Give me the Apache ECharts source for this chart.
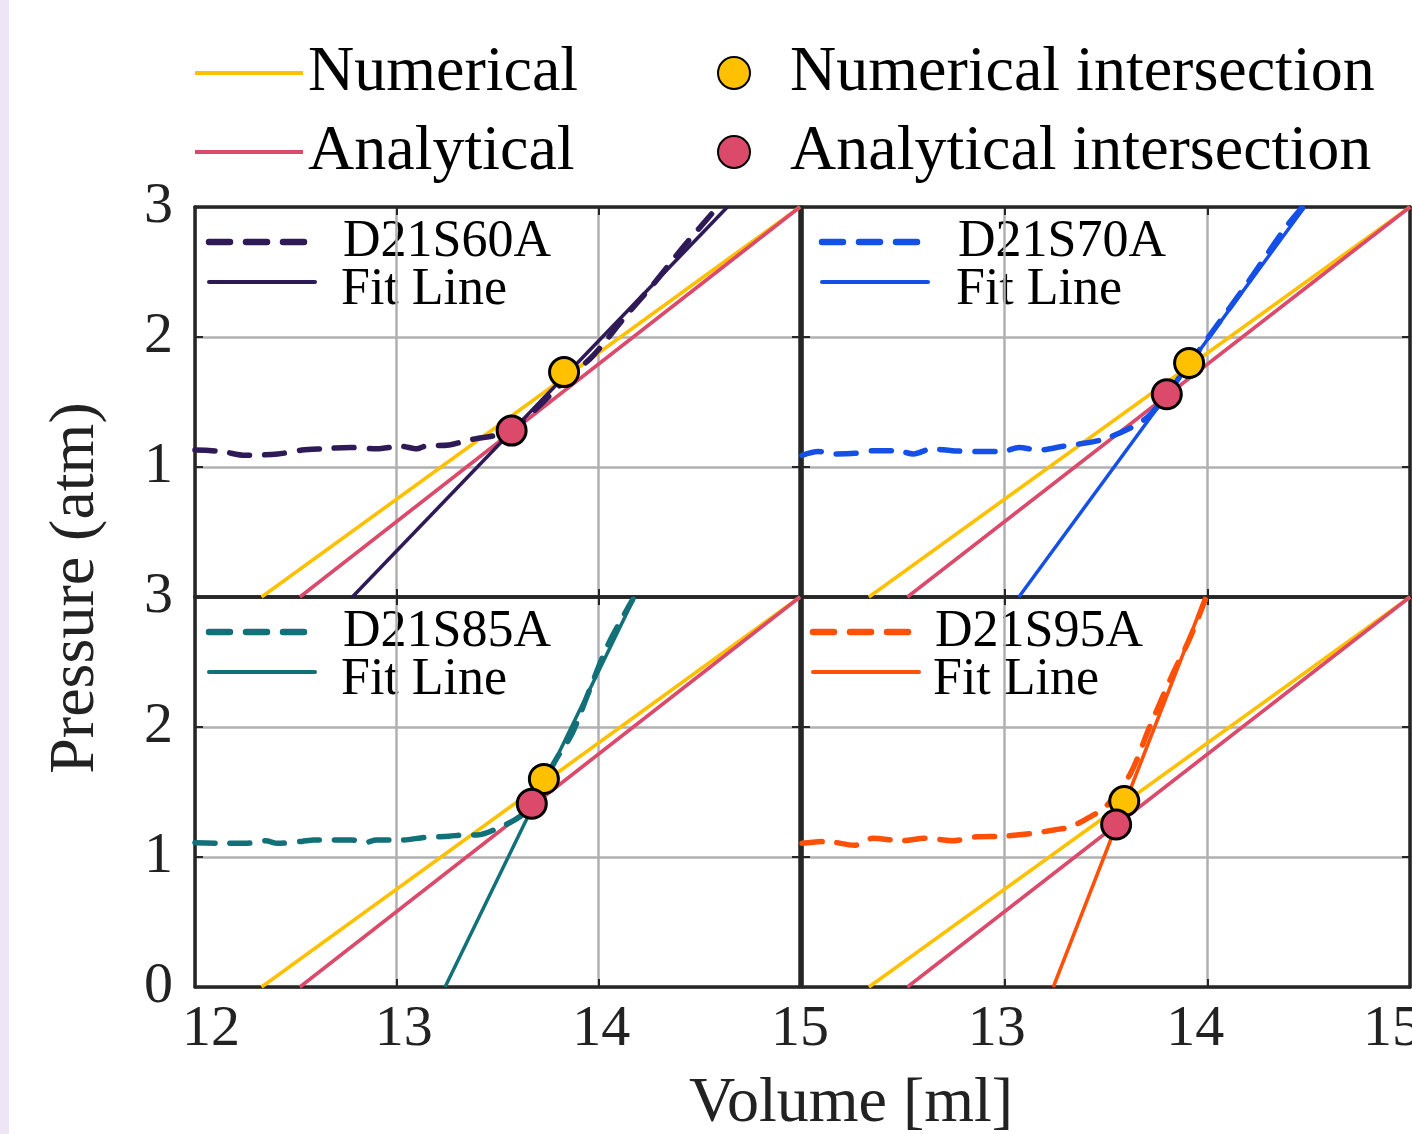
<!DOCTYPE html>
<html><head><meta charset="utf-8">
<script src="https://cdn.jsdelivr.net/npm/echarts@6/dist/echarts.min.js"></script>
<style>
html,body{margin:0;padding:0;background:#fff;}
#chart{position:absolute;left:0;top:0;width:1412px;height:1134px;}
#strip{position:absolute;left:0;top:0;width:9px;height:1134px;background:#EEE6F6;z-index:2;}
</style>
</head><body>
<div id="chart"></div><div id="strip"></div>
<script>
// ---------------- data ----------------
const xTickValues = [12, 13, 14, 15];
const yTickValues = [0, 1, 2, 3];
const panelNames = ['D21S60A', 'D21S70A', 'D21S85A', 'D21S95A'];

// reference straight lines (same in all panels)
const numericalLine = [[12.33, 0], [15, 3]];
const analyticalLine = [[12.52, 0], [15, 3]];

// fitted lines per specimen
const fitS60 = [[12.78, 0], [14.64, 3]];
const fitS70 = [[13.07, 0], [14.48, 3]];
const fitS85 = [[13.24, 0], [14.18, 3]];
const fitS95 = [[13.24, 0], [13.99, 3]];

// measured curves
const volS60 = [12.00, 12.13, 12.25, 12.41, 12.53, 12.63, 12.77, 12.90, 13.02, 13.10, 13.14, 13.26, 13.34, 13.40, 13.48, 13.57, 13.70, 13.83, 13.97, 14.13, 14.28, 14.42, 14.58];
const presS60 = [1.13, 1.12, 1.09, 1.10, 1.13, 1.14, 1.15, 1.14, 1.16, 1.14, 1.16, 1.17, 1.20, 1.22, 1.24, 1.29, 1.46, 1.66, 1.85, 2.15, 2.42, 2.69, 2.98];

const volS70 = [12.00, 12.08, 12.16, 12.26, 12.35, 12.47, 12.55, 12.64, 12.74, 12.86, 12.99, 13.07, 13.17, 13.29, 13.36, 13.48, 13.62, 13.71, 13.80, 13.90, 14.02, 14.20, 14.39, 14.47];
const presS70 = [1.09, 1.12, 1.10, 1.105, 1.125, 1.125, 1.10, 1.14, 1.125, 1.12, 1.12, 1.15, 1.13, 1.16, 1.175, 1.21, 1.30, 1.39, 1.56, 1.77, 2.03, 2.42, 2.85, 3.0];

const volS85 = [12.00, 12.13, 12.25, 12.35, 12.41, 12.53, 12.59, 12.78, 12.84, 12.90, 13.02, 13.14, 13.26, 13.34, 13.40, 13.50, 13.59, 13.65, 13.72, 13.79, 13.87, 13.95, 14.05, 14.17];
const presS85 = [1.11, 1.105, 1.105, 1.125, 1.105, 1.12, 1.13, 1.13, 1.11, 1.13, 1.13, 1.15, 1.16, 1.17, 1.17, 1.22, 1.29, 1.36, 1.55, 1.75, 1.95, 2.26, 2.64, 2.98];

const volS95 = [12.00, 12.12, 12.26, 12.35, 12.49, 12.61, 12.74, 12.86, 12.99, 13.13, 13.25, 13.32, 13.40, 13.50, 13.62, 13.71, 13.83, 13.91, 13.99];
const presS95 = [1.105, 1.12, 1.09, 1.145, 1.125, 1.145, 1.125, 1.155, 1.16, 1.18, 1.21, 1.23, 1.29, 1.39, 1.64, 1.98, 2.41, 2.67, 2.98];

// intersections per panel
const numIntersections = [[13.83, 1.73], [13.91, 1.80], [13.73, 1.60], [13.59, 1.43]];
const anaIntersections = [[13.57, 1.28], [13.80, 1.56], [13.67, 1.41], [13.55, 1.25]];

// ---------------- styling / layout ----------------
const FONT = "'Liberation Serif', 'Times New Roman', serif";
const panelColors = ['#2E1A57', '#1450E8', '#127078', '#FF5008'];
const NUM_COLOR = '#FFC000';
const ANA_COLOR = '#DB4A6B';
const FRAME = '#262626';
const GRIDC = '#B0B0B0';
const gridsPx = [
  {left: 195, top: 207, width: 605, height: 390},
  {left: 802, top: 207, width: 608, height: 390},
  {left: 195, top: 597, width: 605, height: 390},
  {left: 802, top: 597, width: 608, height: 390}
];
const legLineX = [14, 20, 14, 11];
const legTextX = [148, 156, 148, 133];

const fits = [fitS60, fitS70, fitS85, fitS95];
const curves = [[volS60, presS60], [volS70, presS70], [volS85, presS85], [volS95, presS95]];

const labelFont = {fontFamily: FONT, fontSize: 58, color: '#222'};
const richLabels = {
  l32: Object.assign({padding: [0, 0, 0, 32]}, labelFont),
  l14: Object.assign({padding: [0, 0, 0, 14]}, labelFont),
  l6: Object.assign({padding: [0, 0, 0, 6]}, labelFont),
  n: Object.assign({}, labelFont),
  r16: Object.assign({padding: [0, 16, 0, 0]}, labelFont),
  r24: Object.assign({padding: [0, 24, 0, 0]}, labelFont),
  r36: Object.assign({padding: [0, 36, 0, 0]}, labelFont)
};
const leftLabelStyle = {12: 'l32', 13: 'l14', 14: 'l6', 15: 'n'};
const rightLabelStyle = {13: 'r16', 14: 'r24', 15: 'r36'};

const grid = gridsPx.map(g => Object.assign({containLabel: false, outerBoundsMode: 'none'}, g));
const xAxis = [], yAxis = [];
const axisLineStyle = {show: true, onZero: false, lineStyle: {color: FRAME, width: 3.5}};
const axisTickStyle = {show: true, inside: true, length: 8, lineStyle: {color: FRAME, width: 2}};
for (let i = 0; i < 4; i++) {
  const showX = i >= 2;
  xAxis.push({
    type: 'value', gridIndex: i, min: xTickValues[0], max: xTickValues[xTickValues.length - 1], interval: 1,
    position: 'bottom', axisLine: axisLineStyle, axisTick: axisTickStyle,
    splitLine: {show: true, lineStyle: {color: GRIDC, width: 2.5}},
    axisLabel: Object.assign({
      show: showX, margin: 14, hideOverlap: false, rich: richLabels,
      formatter: v => {
        if (i === 3) return v === 12 ? '' : '{' + rightLabelStyle[v] + '|' + v + '}';
        return '{' + leftLabelStyle[v] + '|' + v + '}';
      }
    }, labelFont)
  });
  yAxis.push({
    type: 'value', gridIndex: i, min: yTickValues[0], max: yTickValues[yTickValues.length - 1], interval: 1,
    position: 'left', axisLine: axisLineStyle, axisTick: axisTickStyle,
    splitLine: {show: true, lineStyle: {color: GRIDC, width: 2.5}},
    axisLabel: Object.assign({
      show: (i === 0 || i === 2), margin: 22,
      formatter: v => (i === 0 && v === 0) ? '' : String(v)
    }, labelFont)
  });
}
for (let i = 0; i < 4; i++) {
  xAxis.push({
    type: 'value', gridIndex: i, min: 12, max: 15, interval: 1, position: 'top',
    axisLine: axisLineStyle, axisTick: axisTickStyle,
    splitLine: {show: false}, axisLabel: {show: false}
  });
  yAxis.push({
    type: 'value', gridIndex: i, min: 0, max: 3, interval: 1, position: 'right',
    axisLine: axisLineStyle, axisTick: axisTickStyle,
    splitLine: {show: false}, axisLabel: {show: false}
  });
}

const series = [];
for (let i = 0; i < 4; i++) {
  const base = {xAxisIndex: i, yAxisIndex: i, animation: false, silent: true};
  series.push(Object.assign({}, base, {
    name: 'Numerical', type: 'line', data: numericalLine, symbol: 'none', color: NUM_COLOR,
    lineStyle: {color: NUM_COLOR, width: 3.5}, z: 3
  }));
  series.push(Object.assign({}, base, {
    name: 'Analytical', type: 'line', data: analyticalLine, symbol: 'none', color: ANA_COLOR,
    lineStyle: {color: ANA_COLOR, width: 3.5}, z: 3
  }));
  series.push(Object.assign({}, base, {
    name: panelNames[i] + ' fit', type: 'line', data: fits[i], symbol: 'none', color: panelColors[i],
    lineStyle: {color: panelColors[i], width: 3.5}, z: 4
  }));
  const [vx, py] = curves[i];
  series.push(Object.assign({}, base, {
    name: panelNames[i], type: 'line', data: vx.map((v, k) => [v, py[k]]), symbol: 'none', smooth: 0.3,
    color: panelColors[i],
    lineStyle: {color: panelColors[i], width: 5.5, type: [20, 15], cap: 'round', join: 'round'}, z: 5
  }));
  series.push(Object.assign({}, base, {
    name: 'Numerical intersection', type: 'scatter', data: [numIntersections[i]], symbol: 'circle', symbolSize: 29,
    color: NUM_COLOR, itemStyle: {color: NUM_COLOR, borderColor: '#000', borderWidth: 3, opacity: 1}, z: 10
  }));
  series.push(Object.assign({}, base, {
    name: 'Analytical intersection', type: 'scatter', data: [anaIntersections[i]], symbol: 'circle', symbolSize: 29,
    color: ANA_COLOR, itemStyle: {color: ANA_COLOR, borderColor: '#000', borderWidth: 3, opacity: 1}, z: 11
  }));
}

const graphic = [];
for (let i = 0; i < 4; i++) {
  const g = gridsPx[i];
  graphic.push({
    type: 'group', x: g.left, y: g.top, z: 100,
    children: [
      {type: 'rect', shape: {x: 3, y: 3, width: 325, height: 109}, style: {fill: '#fff'}},
      {type: 'line', shape: {x1: legLineX[i], y1: 35, x2: legLineX[i] + 108, y2: 35},
        style: {stroke: panelColors[i], lineWidth: 6.5, lineDash: [21, 16], lineCap: 'round'}},
      {type: 'line', shape: {x1: legLineX[i], y1: 75, x2: legLineX[i] + 106, y2: 75},
        style: {stroke: panelColors[i], lineWidth: 4, lineCap: 'round'}},
      {type: 'text', x: legTextX[i], y: 35,
        style: {text: panelNames[i], font: '52px ' + FONT, fill: '#000', align: 'left', verticalAlign: 'middle'}},
      {type: 'text', x: legTextX[i] - 2, y: 83,
        style: {text: 'Fit Line', font: '52px ' + FONT, fill: '#000', align: 'left', verticalAlign: 'middle'}}
    ]
  });
}
graphic.push({type: 'text', x: 851, y: 1104, z: 100,
  style: {text: 'Volume [ml]', font: '64px ' + FONT, fill: '#222', align: 'center', verticalAlign: 'middle'}});
graphic.push({type: 'text', x: 76, y: 588, rotation: Math.PI / 2, z: 100,
  style: {text: 'Pressure (atm)', font: '64px ' + FONT, fill: '#222', align: 'center', verticalAlign: 'middle'}});

const option = {
  backgroundColor: '#fff',
  animation: false,
  grid, xAxis, yAxis, series, graphic,
  legend: [
    {
      data: ['Numerical', 'Analytical'], orient: 'vertical', left: 195, top: 38,
      icon: 'rect', itemWidth: 108, itemHeight: 4, itemGap: 9, selectedMode: false, padding: 0,
      textStyle: {fontFamily: FONT, fontSize: 64, color: '#000', lineHeight: 70}
    },
    {
      data: ['Numerical intersection', 'Analytical intersection'], orient: 'vertical', left: 717, top: 38,
      itemWidth: 102, itemHeight: 32, itemGap: 9, selectedMode: false, padding: 0, icon: 'circle',
      textStyle: {fontFamily: FONT, fontSize: 64, color: '#000', lineHeight: 70}
    }
  ]
};
const chart = echarts.init(document.getElementById('chart'), null, {renderer: 'canvas'});
chart.setOption(option);
</script>
</body></html>
